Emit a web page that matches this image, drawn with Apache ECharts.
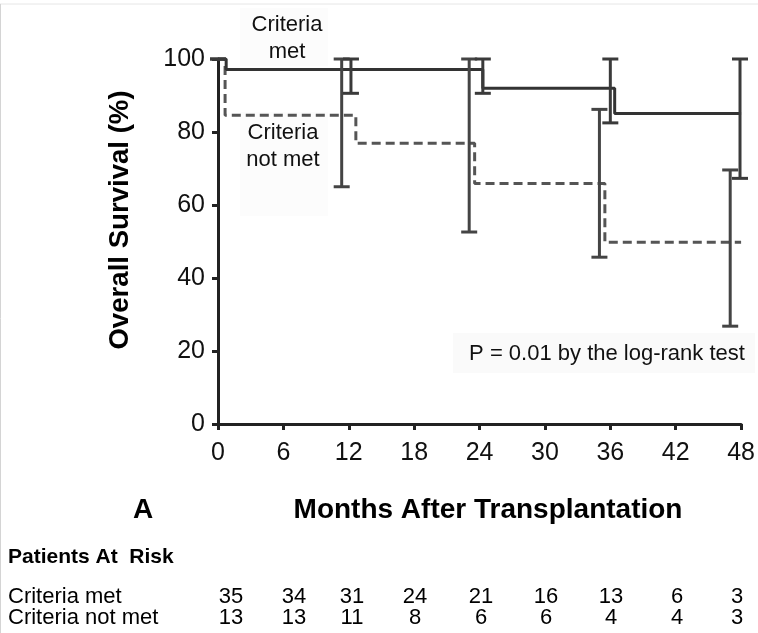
<!DOCTYPE html>
<html>
<head>
<meta charset="utf-8">
<script src="https://cdn.jsdelivr.net/npm/echarts@6/dist/echarts.min.js"></script>
<style>
html,body{margin:0;padding:0;background:#fff;}
#c{width:758px;height:633px;}
</style>
</head>
<body>
<div id="c"></div>
<script>
// ---- data ----
const metTimes = [0, 0.75, 24.3, 36.4, 48];
const metSurvival = [100, 97.1, 92.0, 85.1, 85.1];
const notMetTimes = [0, 0.65, 12.65, 23.55, 35.5, 48];
const notMetSurvival = [100, 84.6, 76.9, 65.9, 49.8, 49.8];
// error bars: time, lower, upper
const metErrTimes = [0, 12.2, 24.3, 36.0, 47.9];
const metErrLow = [100, 90.6, 90.6, 82.5, 67.3];
const metErrHigh = [100, 100, 100, 100, 100];
const notMetErrTimes = [11.35, 23.05, 35.0, 47.0];
const notMetErrLow = [65.0, 52.6, 45.7, 26.8];
const notMetErrHigh = [100, 100, 86.2, 69.6];
const xTicks = [0, 6, 12, 18, 24, 30, 36, 42, 48];
const yTicks = [0, 20, 40, 60, 80, 100];
const riskRowLabels = ['Criteria met', 'Criteria not met'];
const riskMet = [35, 34, 31, 24, 21, 16, 13, 6, 3];
const riskNotMet = [13, 13, 11, 8, 6, 6, 4, 4, 3];

// ---- layout ----
const FONT = "'Liberation Sans', Arial, Helvetica, sans-serif";
const colX = [231, 294, 352, 415, 481, 546, 611, 677, 737];
const rowY = [597, 618];

const chart = echarts.init(document.getElementById('c'), null, {renderer: 'canvas'});

function zip(a, b) { return a.map((v, i) => [v, b[i]]); }
function zip3(a, b, c) { return a.map((v, i) => [v, b[i], c[i]]); }

function errRender(color) {
  return function (params, api) {
    const x = api.value(0);
    const lo = api.coord([x, api.value(1)]);
    const hi = api.coord([x, api.value(2)]);
    const w = 8;
    const st = {stroke: color, lineWidth: 3};
    return {
      type: 'group',
      children: [
        {type: 'line', shape: {x1: lo[0], y1: lo[1], x2: hi[0], y2: hi[1]}, style: st},
        {type: 'line', shape: {x1: hi[0] - w, y1: hi[1], x2: hi[0] + w, y2: hi[1]}, style: st},
        {type: 'line', shape: {x1: lo[0] - w, y1: lo[1], x2: lo[0] + w, y2: lo[1]}, style: st}
      ]
    };
  };
}

const graphics = [
  {type: 'line', shape: {x1: 0, y1: 4, x2: 758, y2: 4}, style: {stroke: '#e6e6e6', lineWidth: 1}},
  {type: 'line', shape: {x1: 0.5, y1: 4, x2: 0.5, y2: 633}, style: {stroke: '#d4d4d4', lineWidth: 1}},
  {type: 'rect', shape: {x: 240, y: 8, width: 88, height: 58}, style: {fill: '#fcfcfc'}, z: -1},
  {type: 'rect', shape: {x: 240, y: 112, width: 88, height: 104}, style: {fill: '#fcfcfc'}, z: -1},
  {type: 'rect', shape: {x: 453, y: 333, width: 302, height: 40}, style: {fill: '#fafafa'}, z: -1},
  {type: 'text', x: 287, y: 25, style: {text: 'Criteria', font: '22px ' + FONT, fill: '#111', textAlign: 'center', textVerticalAlign: 'middle'}, z: 10},
  {type: 'text', x: 287, y: 52, style: {text: 'met', font: '22px ' + FONT, fill: '#111', textAlign: 'center', textVerticalAlign: 'middle'}, z: 10},
  {type: 'text', x: 283, y: 133, style: {text: 'Criteria', font: '22px ' + FONT, fill: '#111', textAlign: 'center', textVerticalAlign: 'middle'}, z: 10},
  {type: 'text', x: 283, y: 160, style: {text: 'not met', font: '22px ' + FONT, fill: '#111', textAlign: 'center', textVerticalAlign: 'middle'}, z: 10},
  {type: 'text', x: 607, y: 354, style: {text: 'P = 0.01 by the log-rank test', font: '22px ' + FONT, fill: '#111', textAlign: 'center', textVerticalAlign: 'middle'}, z: 10},
  {type: 'text', x: 120, y: 220, rotation: Math.PI / 2, style: {text: 'Overall Survival (%)', font: 'bold 27.6px ' + FONT, fill: '#000', textAlign: 'center', textVerticalAlign: 'middle'}},
  {type: 'text', x: 143, y: 510, style: {text: 'A', font: 'bold 28px ' + FONT, fill: '#000', textAlign: 'center', textVerticalAlign: 'middle'}},
  {type: 'text', x: 488, y: 510, style: {text: 'Months After Transplantation', font: 'bold 28px ' + FONT, fill: '#000', textAlign: 'center', textVerticalAlign: 'middle'}},
  {type: 'text', x: 8, y: 557, style: {text: 'Patients At  Risk', font: 'bold 21px ' + FONT, fill: '#000', textAlign: 'left', textVerticalAlign: 'middle'}}
];
riskRowLabels.forEach((lab, r) => {
  graphics.push({type: 'text', x: 8, y: rowY[r], style: {text: lab, font: '22px ' + FONT, fill: '#000', textAlign: 'left', textVerticalAlign: 'middle'}});
});
[riskMet, riskNotMet].forEach((row, r) => {
  row.forEach((v, i) => {
    graphics.push({type: 'text', x: colX[i], y: rowY[r], style: {text: String(v), font: '22px ' + FONT, fill: '#000', textAlign: 'center', textVerticalAlign: 'middle'}});
  });
});

const axisCommon = {
  type: 'value',
  axisLine: {show: true, onZero: false, lineStyle: {color: '#222', width: 3}},
  axisTick: {show: true, inside: false, length: 6, lineStyle: {color: '#222', width: 3}},
  splitLine: {show: false},
  axisLabel: {color: '#111', fontSize: 25, fontFamily: FONT}
};

chart.setOption({
  animation: false,
  backgroundColor: '#fff',
  grid: {left: 218, right: 14, top: 59, bottom: 209, containLabel: false},
  xAxis: Object.assign({}, axisCommon, {
    min: xTicks[0], max: xTicks[xTicks.length - 1], interval: xTicks[1] - xTicks[0],
    axisLabel: Object.assign({}, axisCommon.axisLabel, {margin: 17})
  }),
  yAxis: Object.assign({}, axisCommon, {
    min: yTicks[0], max: yTicks[yTicks.length - 1], interval: yTicks[1] - yTicks[0],
    axisLabel: Object.assign({}, axisCommon.axisLabel, {margin: 13})
  }),
  graphic: graphics,
  series: [
    {type: 'line', step: 'end', symbol: 'none', data: zip(notMetTimes, notMetSurvival),
     lineStyle: {color: '#555', width: 3, type: [9, 5]}, z: 3},
    {type: 'line', step: 'end', symbol: 'none', data: zip(metTimes, metSurvival),
     lineStyle: {color: '#333', width: 3, type: 'solid'}, z: 4},
    {type: 'custom', renderItem: errRender('#444'), data: zip3(notMetErrTimes, notMetErrLow, notMetErrHigh), z: 5, clip: false},
    {type: 'custom', renderItem: errRender('#3a3a3a'), data: zip3(metErrTimes, metErrLow, metErrHigh), z: 5, clip: false}
  ]
});
</script>
</body>
</html>
